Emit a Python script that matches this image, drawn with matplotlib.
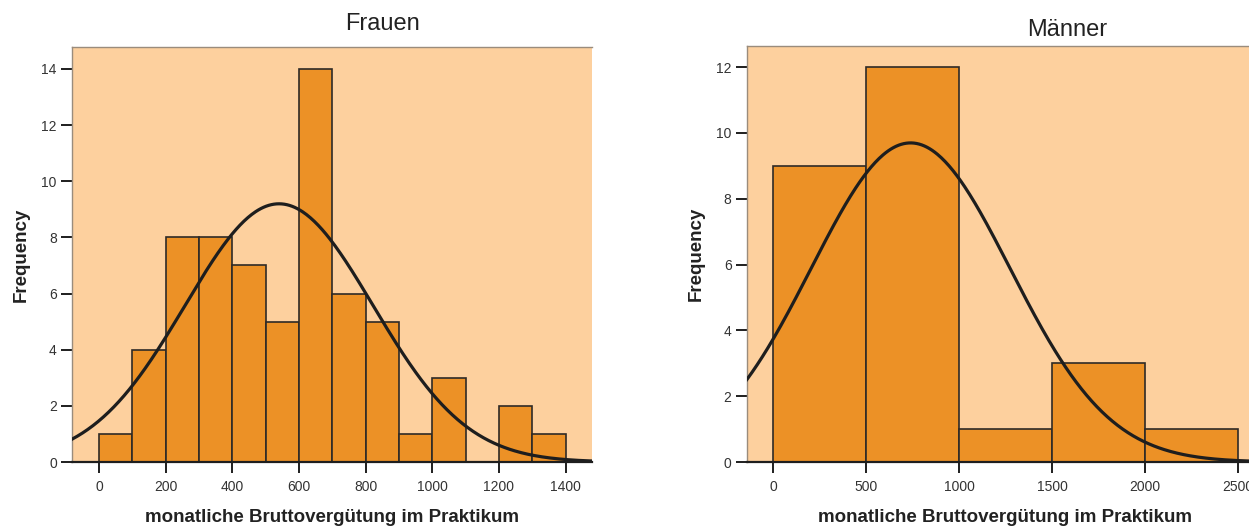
import numpy as np
import matplotlib.pyplot as plt

plt.rcParams['font.family'] = ['Liberation Sans', 'DejaVu Sans']

# Frauen: Klassen zu je 100
f_edges = [0, 100, 200, 300, 400, 500, 600, 700, 800, 900, 1000, 1100, 1200, 1300, 1400]
f_counts = [1, 4, 8, 8, 7, 5, 14, 6, 5, 1, 3, 0, 2, 1]
f_mean, f_sd = 540, 282

# Männer: Klassen zu je 500
m_edges = [0, 500, 1000, 1500, 2000, 2500]
m_counts = [9, 12, 1, 3, 1]
m_mean, m_sd = 740, 535

bg = '#fdd09e'
bar_col = '#ec9126'
edge_col = '#2e2a26'


def draw_panel(ax, edges, counts, mean, sd, xlim, ylim, xticks, yticks, title, title_x, title_pad):
    edges = np.array(edges, dtype=float)
    counts = np.array(counts, dtype=float)
    widths = np.diff(edges)
    ax.set_facecolor(bg)
    ax.bar(edges[:-1], counts, width=widths, align='edge', color=bar_col,
           edgecolor=edge_col, linewidth=1.2, zorder=2)
    # Normalverteilungskurve, skaliert auf N * Klassenbreite
    n = counts.sum()
    xs = np.linspace(xlim[0], xlim[1], 400)
    ys = n * widths[0] / (sd * np.sqrt(2 * np.pi)) * np.exp(-0.5 * ((xs - mean) / sd) ** 2)
    ax.plot(xs, ys, color='#1e1e1e', linewidth=2.3, zorder=3)
    ax.set_xlim(xlim)
    ax.set_ylim(ylim)
    ax.set_xticks(xticks)
    ax.set_yticks(yticks)
    ax.tick_params(direction='out', length=8, width=1.4, color='#1e1e1e',
                   labelsize=10, labelcolor='#333333', pad=3)
    ax.tick_params(axis='x', pad=5)
    for s in ['left', 'top']:
        ax.spines[s].set_color('#9a8c7c')
        ax.spines[s].set_linewidth(1.0)
    ax.spines['right'].set_visible(False)
    ax.spines['bottom'].set_color('#1e1e1e')
    ax.spines['bottom'].set_linewidth(1.6)
    ax.set_xlabel('monatliche Bruttovergütung im Praktikum', fontsize=13.5,
                  fontweight='bold', color='#222222', labelpad=11)
    ax.set_ylabel('Frequency', fontsize=13.5, fontweight='bold', color='#222222', labelpad=8)
    ax.set_title(title, fontsize=17, color='#222222', x=title_x, pad=title_pad)


fig = plt.figure(figsize=(12.49, 5.28), dpi=100)
ax1 = fig.add_axes([0.0577, 0.125, 0.416, 0.786])
ax2 = fig.add_axes([0.598, 0.125, 0.414, 0.788])

draw_panel(ax1, f_edges, f_counts, f_mean, f_sd, (-81, 1478), (0, 14.78),
           range(0, 1401, 200), range(0, 15, 2), 'Frauen', 0.598, 12)
draw_panel(ax2, m_edges, m_counts, m_mean, m_sd, (-140, 2640), (0, 12.64),
           range(0, 2501, 500), range(0, 13, 2), 'Männer', 0.62, 7)

fig.savefig('out.png', dpi=100)
